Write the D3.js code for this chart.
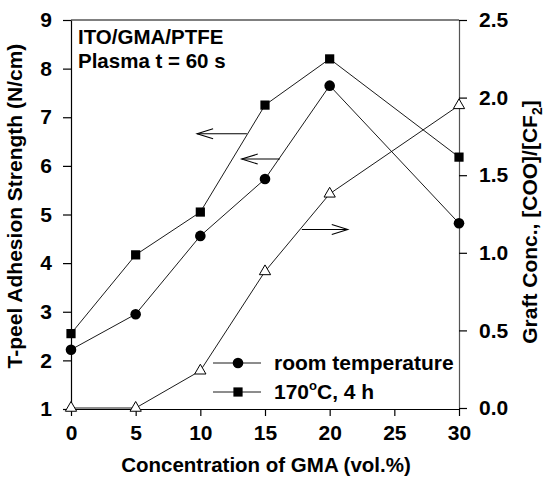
<!DOCTYPE html>
<html>
<head>
<meta charset="utf-8">
<script src="https://cdn.jsdelivr.net/npm/d3@7"></script>
<style>
  html, body { margin: 0; padding: 0; background: #fff; }
  svg text { font-family: "Liberation Sans", Arial, Helvetica, sans-serif; font-weight: bold; fill: #000; }
</style>
</head>
<body>
<svg id="chart" width="545" height="483"></svg>
<script>
// GMA concentration (vol.%)
const gma = [0, 5, 10, 15, 20, 30];
// T-peel adhesion strength (N/cm)
const roomTemp = [2.22, 2.95, 4.56, 5.73, 7.65, 4.82];
const heated = [2.55, 4.17, 5.05, 7.25, 8.2, 6.18];
// Graft concentration [COO]/[CF2]
const graftConc = [0.0, 0.0, 0.24, 0.88, 1.38, 1.95];

const xTicks = [0, 5, 10, 15, 20, 25, 30];
const leftTicks = [1, 2, 3, 4, 5, 6, 7, 8, 9];
const rightTicks = [0.0, 0.5, 1.0, 1.5, 2.0, 2.5];

const svg = d3.select("#chart");
const x = d3.scaleLinear().domain([0, 30]).range([71, 459]);
const yL = d3.scaleLinear().domain([1, 9]).range([409, 20]);
const yR = d3.scaleLinear().domain([0, 2.5]).range([408, 20]);

// frame top
svg.append("line").attr("x1", 71).attr("x2", 459).attr("y1", 20).attr("y2", 20)
  .attr("stroke", "#000").attr("stroke-width", 1);

const ax = (g) => g.call(s => s.select(".domain").attr("stroke", "#000").attr("stroke-width", 1.2))
  .call(s => s.selectAll(".tick line").attr("stroke", "#000").attr("stroke-width", 1.2))
  .call(s => s.selectAll("text").attr("font-size", 21).attr("font-family", null));

svg.append("g").attr("transform", "translate(0,409)")
  .call(d3.axisBottom(x).tickValues(xTicks).tickSize(7).tickSizeOuter(0).tickPadding(9).tickFormat(d3.format("d")))
  .call(ax);

svg.append("g").attr("transform", "translate(71,0)")
  .call(d3.axisLeft(yL).tickValues(leftTicks).tickSize(8).tickSizeOuter(0).tickPadding(11).tickFormat(d3.format("d")))
  .call(ax);

svg.append("g").attr("transform", "translate(459,0)")
  .call(d3.axisRight(yR).tickValues(rightTicks).tickSize(8).tickSizeOuter(0).tickPadding(12).tickFormat(d3.format(".1f")))
  .call(ax)
  .call(s => s.select(".domain").attr("stroke", "#555"));

// axis titles
svg.append("text").attr("x", 266).attr("y", 472).attr("text-anchor", "middle")
  .attr("font-size", 20.5).text("Concentration of GMA (vol.%)");

svg.append("text").attr("transform", "translate(22,206) rotate(-90)").attr("text-anchor", "middle")
  .attr("font-size", 21).text("T-peel Adhesion Strength (N/cm)");

const rt = svg.append("text").attr("transform", "translate(537,222) rotate(-90)").attr("text-anchor", "middle")
  .attr("font-size", 21);
rt.append("tspan").text("Graft Conc., [COO]/[CF");
rt.append("tspan").attr("font-size", 14).attr("dy", 5).text("2");
rt.append("tspan").attr("dy", -5).text("]");

// annotation text
svg.append("text").attr("x", 78).attr("y", 44).attr("font-size", 20.5).text("ITO/GMA/PTFE");
svg.append("text").attr("x", 78).attr("y", 68).attr("font-size", 20.5).text("Plasma t = 60 s");

// series
const line = (ys, scale) => d3.line().x((d, i) => x(gma[i])).y(d => scale(d))(ys);

svg.append("path").attr("d", line(graftConc, yR)).attr("fill", "none").attr("stroke", "#000").attr("stroke-width", 0.9);
svg.append("path").attr("d", line(roomTemp, yL)).attr("fill", "none").attr("stroke", "#000").attr("stroke-width", 0.9);
svg.append("path").attr("d", line(heated, yL)).attr("fill", "none").attr("stroke", "#000").attr("stroke-width", 0.9);

const tri = d3.symbol().type(d3.symbolTriangle).size(55);
svg.selectAll(".tri").data(graftConc).join("path")
  .attr("transform", (d, i) => `translate(${x(gma[i])},${yR(d)})`)
  .attr("d", tri).attr("fill", "#fff").attr("stroke", "#000").attr("stroke-width", 1);

svg.selectAll(".dot").data(roomTemp).join("circle")
  .attr("cx", (d, i) => x(gma[i])).attr("cy", d => yL(d)).attr("r", 5.3).attr("fill", "#000");

svg.selectAll(".sq").data(heated).join("rect")
  .attr("x", (d, i) => x(gma[i]) - 4.6).attr("y", d => yL(d) - 4.6)
  .attr("width", 9.2).attr("height", 9.2).attr("fill", "#000");

// arrows pointing each curve to its axis
const arrows = [
  { from: [13.6, 6.66], to: [9.75, 6.66], scale: yL },
  { from: [16.15, 6.14], to: [13.2, 6.14], scale: yL },
  { from: [17.85, 1.15], to: [21.4, 1.15], scale: yR }
];
arrows.forEach(a => {
  const x1 = x(a.from[0]), x2 = x(a.to[0]), yy = a.scale(a.from[1]);
  const dir = Math.sign(x2 - x1);
  svg.append("line").attr("x1", x1).attr("x2", x2).attr("y1", yy).attr("y2", yy)
    .attr("stroke", "#000").attr("stroke-width", 1.1);
  svg.append("path")
    .attr("d", `M${x2 - dir * 16},${yy - 5} L${x2},${yy} L${x2 - dir * 16},${yy + 5}`)
    .attr("fill", "none").attr("stroke", "#000").attr("stroke-width", 1.1);
});

// legend
const legend = [
  { label: "room temperature", kind: "circle" },
  { label: "170", kind: "square" }
];
legend.forEach((d, i) => {
  const yy = 363 + i * 29;
  svg.append("line").attr("x1", 213).attr("x2", 261).attr("y1", yy).attr("y2", yy)
    .attr("stroke", "#000").attr("stroke-width", 0.9);
  if (d.kind === "circle") {
    svg.append("circle").attr("cx", 238).attr("cy", yy).attr("r", 5.3).attr("fill", "#000");
  } else {
    svg.append("rect").attr("x", 233.4).attr("y", yy - 4.6).attr("width", 9.2).attr("height", 9.2).attr("fill", "#000");
  }
  const t = svg.append("text").attr("x", 274).attr("y", yy + 7).attr("font-size", 21);
  if (d.kind === "circle") {
    t.text(d.label);
  } else {
    t.append("tspan").text(d.label);
    t.append("tspan").attr("font-size", 13).attr("dy", -9).text("o");
    t.append("tspan").attr("dy", 9).text("C, 4 h");
  }
});
</script>
</body>
</html>
